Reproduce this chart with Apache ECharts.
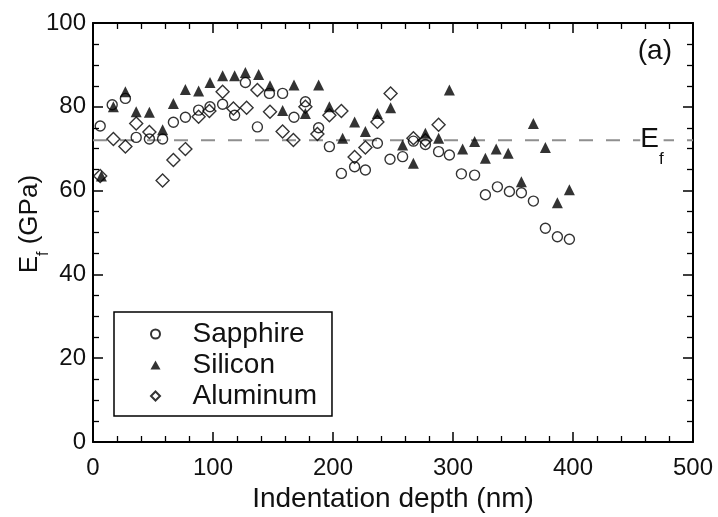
<!DOCTYPE html>
<html>
<head>
<meta charset="utf-8">
<script src="https://cdn.jsdelivr.net/npm/echarts@6/dist/echarts.min.js"></script>
<style>
  html, body { margin: 0; padding: 0; background: #fff; }
  #chart { width: 718px; height: 517px; }
</style>
</head>
<body>
<div id="chart"></div>
<script>
// Film modulus E_f versus indentation depth for three substrates
const seriesNames = ['Sapphire', 'Silicon', 'Aluminum'];

// [depth (nm), E_f (GPa)]
const sapphire = [
  [6, 75.4], [16, 80.5], [27, 82], [36, 72.7], [47, 72.3], [58, 72.3], [67, 76.3], [77, 77.5],
  [88, 79.2], [97.5, 80], [108, 80.6], [118, 78], [127, 85.8], [137, 75.2], [147, 83.2], [158, 83.2],
  [167.5, 77.5], [177, 81.2], [188, 75], [197, 70.5], [207, 64.1], [218, 65.7], [227, 64.9], [237, 71.3],
  [247.5, 67.5], [258, 68.1], [267, 71.8], [277, 71], [288, 69.3], [297, 68.5], [307, 64], [318, 63.7],
  [327, 59], [337, 60.9], [347, 59.8], [357, 59.5], [367, 57.5], [377, 51], [387, 49], [397, 48.4]
];
const silicon = [
  [7, 63.5], [17, 80], [27, 83.6], [36, 78.8], [47, 78.7], [58, 74.5], [67, 80.8], [77, 84.1],
  [88, 83.8], [97.5, 85.8], [108, 87.4], [118, 87.4], [127, 88.2], [138, 87.7], [147.5, 85], [158, 79.1],
  [167.5, 85.2], [177, 78.4], [188, 85.2], [197, 80], [208, 72.5], [218, 76.4], [227, 74.1], [237, 78.4],
  [248, 79.8], [258, 70.9], [267, 66.5], [277, 73.7], [288, 72.5], [297, 84], [308, 69.9], [318, 71.7],
  [327, 67.7], [336, 69.9], [346, 68.9], [357, 62.1], [367, 76], [377, 70.3], [387, 57.1], [397, 60.2]
];
const aluminum = [
  [6, 63.5], [17, 72.3], [27, 70.5], [36, 76], [47, 74], [58, 62.4], [67, 67.3], [77, 69.9],
  [88, 77.6], [97, 79], [108, 83.6], [117, 79.6], [128, 79.8], [137, 84], [147.5, 78.8], [158, 74.1],
  [167, 72.1], [177, 80], [187, 73.5], [197, 78], [207, 79], [218, 68], [227, 70.3], [237, 76.4],
  [248, 83.2], [267, 72.5], [277, 72], [288, 75.7]
];

// reference film modulus (dashed line)
const filmModulus = 72;

// axis ranges
const depthRange = [0, 500];
const depthStep = 100;
const modulusRange = [0, 100];
const modulusStep = 20;

const font = "'Liberation Sans', Arial, Helvetica, sans-serif";
const ink = '#000';

function frameAxis(range, step, minorSplit, position, labelled) {
  return {
    type: 'value',
    position: position,
    min: range[0],
    max: range[1],
    interval: step,
    axisLine: { show: true, onZero: false, lineStyle: { color: ink, width: 2 } },
    axisTick: { show: true, inside: true, length: 10, lineStyle: { color: ink, width: 1.5 } },
    minorTick: { show: true, splitNumber: minorSplit, length: 6, lineStyle: { color: ink, width: 1.3 } },
    splitLine: { show: false },
    minorSplitLine: { show: false },
    axisLabel: labelled
      ? { show: true, color: '#111', fontSize: 24, fontFamily: font, margin: position === 'bottom' ? 14 : 7 }
      : { show: false }
  };
}

const xBottom = frameAxis(depthRange, depthStep, 5, 'bottom', true);
xBottom.name = 'Indentation depth (nm)';
xBottom.nameLocation = 'middle';
xBottom.nameGap = 41;
xBottom.nameTextStyle = { fontSize: 28, color: '#111', fontFamily: font };

const chart = echarts.init(document.getElementById('chart'), null, { renderer: 'canvas' });

const hollow = { color: 'rgba(255,255,255,0)', borderColor: ink, borderWidth: 1.4 };

// legend glyphs drawn as paths so they keep their aspect inside the icon slot
const triangleIcon = 'path://M5,0L10,9L0,9Z';
const diamondIcon = 'path://M5,0L10,5L5,10L0,5Z';

chart.setOption({
  animation: false,
  backgroundColor: '#fff',
  textStyle: { fontFamily: font },
  grid: { left: 93, right: 25, top: 23, bottom: 75, containLabel: false, outerBoundsMode: 'none' },
  xAxis: [xBottom, frameAxis(depthRange, depthStep, 5, 'top', false)],
  yAxis: [frameAxis(modulusRange, modulusStep, 4, 'left', true), frameAxis(modulusRange, modulusStep, 4, 'right', false)],
  legend: {
    data: [
      { name: seriesNames[0], icon: 'circle' },
      { name: seriesNames[1], icon: triangleIcon },
      { name: seriesNames[2], icon: diamondIcon }
    ],
    orient: 'vertical',
    left: 114,
    top: 312,
    itemWidth: 64,
    itemHeight: 9,
    itemGap: 3,
    symbolKeepAspect: true,
    padding: [8, 15, 6, 36],
    borderColor: ink,
    borderWidth: 1.5,
    borderRadius: 0,
    selectedMode: false,
    textStyle: { fontSize: 28, color: '#111', fontFamily: font }
  },
  series: [
    {
      name: 'Ef',
      type: 'line',
      xAxisIndex: 0,
      yAxisIndex: 0,
      data: [[depthRange[0], filmModulus], [depthRange[1], filmModulus]],
      symbol: 'none',
      silent: true,
      z: 1,
      lineStyle: { color: '#8f8f8f', width: 2, type: [14, 13] }
    },
    {
      name: seriesNames[0],
      type: 'scatter',
      data: sapphire,
      symbol: 'circle',
      symbolSize: 10,
      z: 3,
      itemStyle: hollow
    },
    {
      name: seriesNames[1],
      type: 'scatter',
      data: silicon,
      symbol: 'triangle',
      symbolSize: 11,
      z: 4,
      itemStyle: { color: ink }
    },
    {
      name: seriesNames[2],
      type: 'scatter',
      data: aluminum,
      symbol: 'diamond',
      symbolSize: 13,
      z: 5,
      itemStyle: hollow
    }
  ]
});

// Annotations: E_f tag beside the dashed line, panel tag and the rotated y title
const tagPos = chart.convertToPixel({ xAxisIndex: 0, yAxisIndex: 0 }, [456, filmModulus]);
const corner = chart.convertToPixel({ xAxisIndex: 0, yAxisIndex: 0 }, [depthRange[1], modulusRange[1]]);
const midY = chart.convertToPixel({ xAxisIndex: 0, yAxisIndex: 0 }, [0, 52])[1];

const subRich = {
  e: { fontSize: 28, fontFamily: font, fill: '#111', verticalAlign: 'middle', lineHeight: 56 },
  s: { fontSize: 17, fontFamily: font, fill: '#111', verticalAlign: 'bottom', lineHeight: 56 }
};

chart.setOption({
  graphic: [
    {
      type: 'text',
      x: tagPos[0],
      y: tagPos[1] - 1,
      z: 10,
      style: {
        text: '{e|E}{s|f}',
        rich: subRich,
        textAlign: 'left',
        textVerticalAlign: 'middle',
        fill: '#111',
        backgroundColor: '#fff'
      }
    },
    {
      type: 'text',
      x: corner[0] - 21,
      y: corner[1] + 28,
      z: 10,
      style: {
        text: '(a)',
        font: '28px ' + font,
        fill: '#111',
        textAlign: 'right',
        textVerticalAlign: 'middle'
      }
    },
    {
      type: 'text',
      x: 30,
      y: midY,
      rotation: Math.PI / 2,
      z: 10,
      style: {
        text: '{e|E}{s|f}{g| (GPa)}',
        rich: {
          e: { fontSize: 26, fontFamily: font, fill: '#111', verticalAlign: 'middle', lineHeight: 44 },
          s: { fontSize: 16, fontFamily: font, fill: '#111', verticalAlign: 'bottom', lineHeight: 44 },
          g: { fontSize: 26, fontFamily: font, fill: '#111', verticalAlign: 'middle', lineHeight: 44 }
        },
        textAlign: 'center',
        textVerticalAlign: 'middle',
        fill: '#111'
      }
    }
  ]
});
</script>
</body>
</html>
